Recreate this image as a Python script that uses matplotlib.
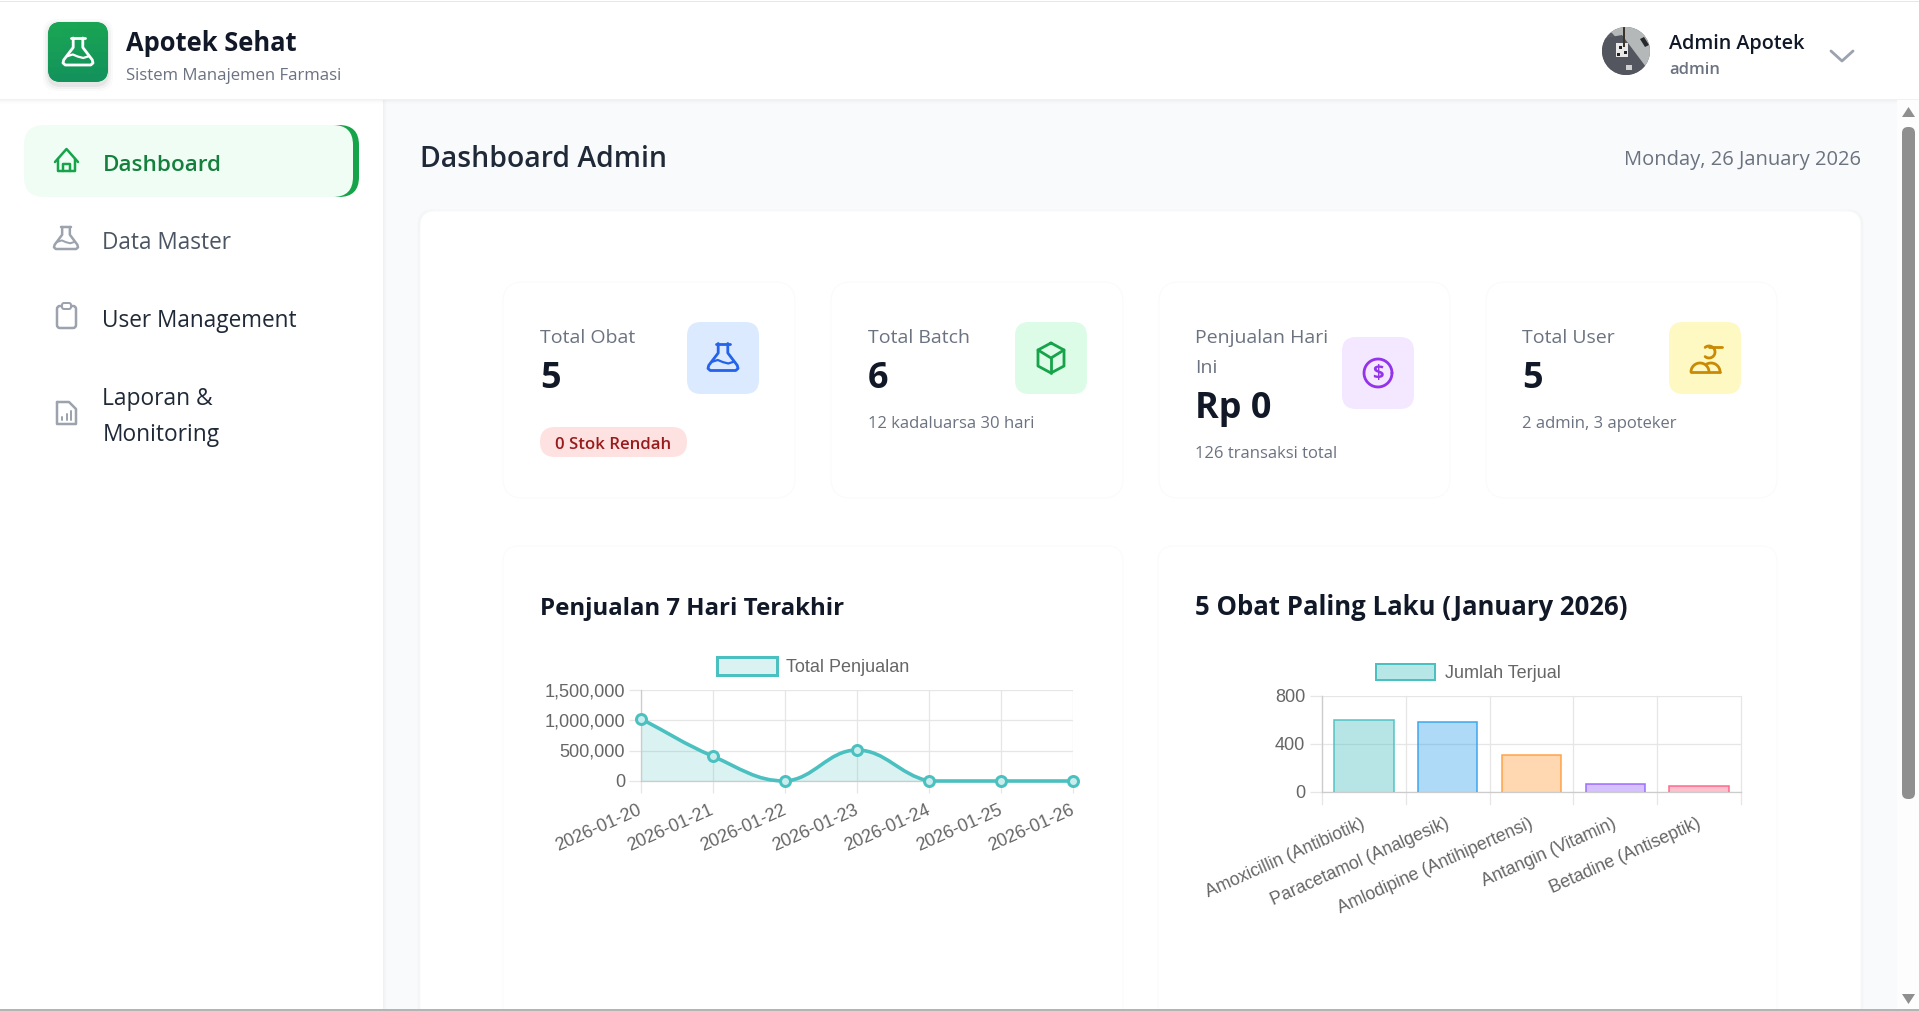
import numpy as np
import matplotlib
matplotlib.use("Agg")
import matplotlib.pyplot as plt
from matplotlib.patches import FancyBboxPatch, Circle, Polygon, Rectangle, PathPatch
from matplotlib.path import Path
from matplotlib.transforms import ScaledTranslation

W, H = 1919, 1012
UI_FONT = "Open Sans"
CHART_FONT = "Liberation Sans"

# chart data
sales_dates = ["2026-01-20", "2026-01-21", "2026-01-22", "2026-01-23",
               "2026-01-24", "2026-01-25", "2026-01-26"]
sales_totals = [1030000, 410000, 0, 510000, 0, 0, 0]
sales_ticks = [0, 500000, 1000000, 1500000]

drug_names = ["Amoxicillin (Antibiotik)", "Paracetamol (Analgesik)",
              "Amlodipine (Antihipertensi)", "Antangin (Vitamin)",
              "Betadine (Antiseptik)"]
drug_sold = [600, 580, 310, 68, 48]
drug_ticks = [0, 400, 800]
drug_colors = ["#4bc0c0", "#36a2eb", "#ff9f40", "#9966ff", "#ff6384"]

plt.rcParams["font.family"] = [UI_FONT, "DejaVu Sans"]
fig = plt.figure(figsize=(W / 100, H / 100), dpi=100, facecolor="#f9fafb")
ui = fig.add_axes([0, 0, 1, 1], zorder=0)
ui.set_xlim(0, W)
ui.set_ylim(H, 0)
ui.axis("off")


def px(size):
    return size * 0.72


def rrect(x0, y0, x1, y1, r, fc, ec="none", lw=0, alpha=None, z=1):
    p = FancyBboxPatch((x0 + r, y0 + r), x1 - x0 - 2 * r, y1 - y0 - 2 * r,
                       boxstyle=f"round,pad={r},rounding_size={r}",
                       fc=fc, ec=ec, lw=lw, alpha=alpha, zorder=z)
    ui.add_patch(p)
    return p


def label(x, y, s, size, color, weight="normal", ha="left", font=UI_FONT, z=5):
    ui.text(x, y, s, fontsize=px(size), color=color, fontweight=weight, ha=ha,
            va="baseline", family=[font, "DejaVu Sans"], zorder=z)


def stroke(pts, color, lw=2.5, closed=False, z=5):
    pts = np.array(pts, dtype=float)
    if closed:
        pts = np.vstack([pts, pts[:1]])
    ui.plot(pts[:, 0], pts[:, 1], color=color, lw=px(lw), solid_capstyle="round",
            solid_joinstyle="round", zorder=z)


def arc(cx, cy, r, a0, a1, color, lw=2.5, z=5):
    t = np.radians(np.linspace(a0, a1, 40))
    stroke(np.column_stack([cx + r * np.cos(t), cy - r * np.sin(t)]), color, lw, z=z)


def flask(cx, cy, hw, hh, color, lw=2.5):
    body = [(-0.32, -1), (-0.32, -0.3), (-0.95, 0.62), (-1, 0.85), (-0.85, 1),
            (0.85, 1), (1, 0.85), (0.95, 0.62), (0.32, -0.3), (0.32, -1)]
    stroke([(cx + a * hw, cy + b * hh) for a, b in body], color, lw)
    stroke([(cx - 0.45 * hw, cy - hh), (cx + 0.45 * hw, cy - hh)], color, lw)
    wave = [(-0.72, 0.35), (-0.35, 0.22), (0, 0.38), (0.35, 0.48), (0.72, 0.35)]
    stroke([(cx + a * hw, cy + b * hh) for a, b in wave], color, lw * 0.8)


def card(x0, y0, x1, y1, r=16):
    for grow, a in [(3, 0.007), (2, 0.010), (1, 0.014)]:
        rrect(x0 - grow, y0 - grow + 1, x1 + grow, y1 + grow + 1, r, "#000000", alpha=a)
    rrect(x0, y0, x1, y1, r, "#ffffff", ec="#f9fafa", lw=0.7, z=2)


def shift_labels(labels, dx, dy):
    # nudge tick labels by screen pixels, dy positive is up
    off = ScaledTranslation(px(dx) / 72, px(dy) / 72, fig.dpi_scale_trans)
    for t in labels:
        t.set_transform(t.get_transform() + off)


# page background, header and sidebar
ui.add_patch(Rectangle((0, 0), 383, H, fc="#ffffff", zorder=0.5))
for i, a in enumerate([0.035, 0.022, 0.012, 0.006]):
    ui.add_patch(Rectangle((383 + i, 100), 1, H, fc="#000000", alpha=a, lw=0, zorder=0.4))
    ui.add_patch(Rectangle((0, 101 + i), W, 1, fc="#000000", alpha=a, lw=0, zorder=0.6))
ui.add_patch(Rectangle((0, 0), W, 101, fc="#ffffff", zorder=0.7))
ui.add_patch(Rectangle((0, 1.5), W, 1.5, fc="#e5e7eb", zorder=0.8))
ui.add_patch(Rectangle((0, 100), W, 1, fc="#f0f1f3", zorder=0.8))
ui.add_patch(Rectangle((0, 1010), W, 2, fc="#b4b4b4", zorder=9))

# logo
for grow, a in [(5, 0.02), (3, 0.03), (1, 0.05)]:
    rrect(48 - grow, 25 - grow, 108 + grow, 87 + grow, 14, "#000000", alpha=a)
logo = rrect(48, 23, 108, 83, 13, "#18a058", z=2)
grad = ui.imshow(np.linspace(0, 1, 64).reshape(8, 8), extent=(48, 108, 83, 23), aspect="auto",
                 cmap=matplotlib.colors.LinearSegmentedColormap.from_list("g", ["#1aa654", "#13925c"]),
                 zorder=3)
grad.set_clip_path(logo)
ui.set_xlim(0, W)
ui.set_ylim(H, 0)
flask(78, 52.5, 15, 13.5, "#ffffff", 2.8)
label(126, 51, "Apotek Sehat", 25.5, "#111827", "bold")
label(126, 80, "Sistem Manajemen Farmasi", 16.8, "#6b7280")

# user block
avatar = Circle((1626, 52), 24, fc="#5a5d66", zorder=3)
ui.add_patch(avatar)
bits = [Polygon([(1602, 28), (1650, 28), (1650, 76), (1644, 70), (1612, 34)], fc="#b4b8b8", zorder=3.1),
        Polygon([(1600, 40), (1622, 36), (1646, 68), (1630, 80), (1600, 80)], fc="#53565f", zorder=3.2),
        Rectangle((1616, 44), 12, 14, fc="#e8e8e8", zorder=3.3),
        Rectangle((1619, 47), 3, 3, fc="#222222", zorder=3.35),
        Rectangle((1624, 52), 3, 3, fc="#222222", zorder=3.35),
        Rectangle((1617, 54), 3, 3, fc="#222222", zorder=3.35),
        Rectangle((1626, 66), 6, 5, fc="#d0d0d0", zorder=3.3),
        Rectangle((1623, 28), 2, 20, fc="#3a3328", zorder=3.4),
        Polygon([(1640, 40), (1644, 38), (1649, 46), (1645, 48)], fc="#26282c", zorder=3.4)]
for b in bits:
    ui.add_patch(b)
    b.set_clip_path(avatar)
label(1669, 49, "Admin Apotek", 19.8, "#111827", 600)
label(1669, 74, "admin", 16.5, "#6b7280", 600)
stroke([(1831, 52), (1842, 62), (1853, 52)], "#9ca3af", 2.8)

# sidebar nav
rrect(300, 126, 359, 198, 20, "#16a34a", z=1)
rrect(24, 126, 353, 198, 20, "#f0fdf4", z=1.5)
label(102.5, 171, "Dashboard", 22.5, "#15803d", 600)
stroke([(55, 163), (66.5, 150), (78, 163)], "#16a34a")
stroke([(58, 160), (58, 172), (75, 172), (75, 160)], "#16a34a")
stroke([(63, 172), (63, 165), (70, 165), (70, 172)], "#16a34a")

flask(66, 239, 12, 11, "#9ca3af")
label(102.5, 249, "Data Master", 22.6, "#4b5563")

rrect(57, 307, 76, 329, 3, "none", ec="#9ca3af", lw=px(2.5), z=5)
rrect(62, 304, 71, 310, 2, "#ffffff", ec="#9ca3af", lw=px(2), z=5.1)
label(102.5, 327, "User Management", 22.6, "#1f2937")

stroke([(57, 403), (69, 403), (76, 410), (76, 425), (57, 425)], "#9ca3af", closed=True)
for bx, by in [(62, 418), (66.5, 415), (71, 412)]:
    stroke([(bx, 421), (bx, by)], "#9ca3af", 2)
label(102.5, 405, "Laporan &", 22.8, "#1f2937")
label(102.5, 441, "Monitoring", 22.8, "#1f2937")

# page heading
label(420, 167, "Dashboard Admin", 28.4, "#1f2937", 600)
label(1861, 165, "Monday, 26 January 2026", 20.2, "#6b7280", ha="right")

# main panel and cards
card(420, 212, 1861, 1040, 15)
for x0, x1 in [(503, 795), (831, 1123), (1159, 1450), (1486, 1777)]:
    card(x0, 283, x1, 499, 20)
card(503, 547, 1123, 1040, 16)
card(1158, 547, 1777, 1040, 16)

# stat card 1
label(540, 343, "Total Obat", 19.5, "#6b7280")
label(540, 388, "5", 36, "#111827", "bold")
rrect(687, 323, 759, 395, 14, "#dbeafe", z=3)
flask(723, 358, 15, 13.5, "#2563eb", 2.8)
rrect(540, 428, 687, 458, 15, "#fee2e2", z=3)
label(613.5, 449, "0 Stok Rendah", 16.8, "#991b1b", 600, ha="center")

# stat card 2
label(868, 343, "Total Batch", 19.5, "#6b7280")
label(868, 388, "6", 36, "#111827", "bold")
rrect(1015, 323, 1087, 395, 14, "#dcfce7", z=3)
stroke([(1051, 344), (1064, 351), (1064, 367), (1051, 374), (1038, 367), (1038, 351)], "#16a34a", 2.8, closed=True)
stroke([(1038, 351), (1051, 359), (1064, 351)], "#16a34a", 2.8)
stroke([(1051, 359), (1051, 374)], "#16a34a", 2.8)
label(868, 428, "12 kadaluarsa 30 hari", 16.6, "#6b7280")

# stat card 3
label(1195, 343, "Penjualan Hari", 19.5, "#6b7280")
label(1195, 373, "Ini", 19.5, "#6b7280")
label(1195, 418, "Rp 0", 36, "#111827", "bold")
rrect(1342, 338, 1414, 410, 14, "#f3e8ff", z=3)
arc(1378, 374, 14, 0, 360, "#9333ea", 2.8)
ui.text(1378, 374, "$", fontsize=px(20), color="#9333ea", fontweight="bold", ha="center",
        va="center", zorder=5)
label(1195, 458, "126 transaksi total", 16.6, "#6b7280")

# stat card 4
label(1522, 343, "Total User", 19.5, "#6b7280")
label(1522, 388, "5", 36, "#111827", "bold")
rrect(1669, 323, 1741, 395, 14, "#fef9c3", z=3)
arc(1700, 373, 9, 0, 180, "#ca8a04", 2.8)
arc(1711, 373, 9, 0, 120, "#ca8a04", 2.8)
stroke([(1691, 373), (1720, 373)], "#ca8a04", 2.8)
arc(1709, 353, 6, -130, 130, "#ca8a04", 2.8)
stroke([(1709, 348), (1722, 348)], "#ca8a04", 2.8)
label(1522, 428, "2 admin, 3 apoteker", 16.6, "#6b7280")

# chart titles
label(540, 615, "Penjualan 7 Hari Terakhir", 24, "#111827", "bold")
label(1195, 615, "5 Obat Paling Laku (January 2026)", 25.8, "#111827", "bold")

# legends
ui.add_patch(Rectangle((717, 658), 60, 18, fc="#dbf2f2", ec="#4bc0c0", lw=px(3), zorder=5))
label(786, 672, "Total Penjualan", 18, "#666666", font=CHART_FONT)
ui.add_patch(Rectangle((1376, 665), 59, 16, fc="#b7e6e6", ec="#4bc0c0", lw=px(2), zorder=5))
label(1445, 678, "Jumlah Terjual", 18, "#666666", font=CHART_FONT)


def chart_axes(x0, y0, x1, y1):
    ax = fig.add_axes([x0 / W, 1 - y1 / H, (x1 - x0) / W, (y1 - y0) / H], zorder=3)
    ax.patch.set_alpha(0)
    for side in ("top", "right"):
        ax.spines[side].set_visible(False)
    for side in ("left", "bottom"):
        ax.spines[side].set_color("#cccccc")
        ax.spines[side].set_linewidth(px(1.3))
    ax.grid(True, color="#e6e6e6", lw=px(1.3))
    ax.set_axisbelow(True)
    ax.tick_params(length=px(12), width=px(1.3), color="#e6e6e6", labelcolor="#666666")
    ax.tick_params(axis="both", labelsize=px(18.2))
    return ax


def bezier_path(ax, xs, ys, tension=0.4):
    # same curve shape the web chart uses, control points worked out in pixels
    # and capped to the plot area so the line cannot dip under zero
    pts = ax.transData.transform(np.column_stack([xs, ys]))
    low, high = ax.bbox.get_points()
    verts, codes = [pts[0]], [Path.MOVETO]
    n = len(pts)
    prev_c, next_c = [None] * n, [None] * n
    for i in range(n):
        a, b, c = pts[max(i - 1, 0)], pts[i], pts[min(i + 1, n - 1)]
        d1, d2 = np.hypot(*(b - a)), np.hypot(*(c - b))
        s1, s2 = d1 / (d1 + d2), d2 / (d1 + d2)
        prev_c[i] = np.clip(b - tension * s1 * (c - a), low, high)
        next_c[i] = np.clip(b + tension * s2 * (c - a), low, high)
    for i in range(n - 1):
        verts += [next_c[i], prev_c[i + 1], pts[i + 1]]
        codes += [Path.CURVE4] * 3
    return ax.transData.inverted().transform(np.array(verts)), codes


# line chart
ax1 = chart_axes(640.5, 691, 1073, 782)
ax1.set_xlim(0, len(sales_dates) - 1)
ax1.set_ylim(0, max(sales_ticks))
ax1.set_yticks(sales_ticks)
ax1.set_yticklabels([f"{v:,}" for v in sales_ticks], family=CHART_FONT)
ax1.set_xticks(range(len(sales_dates)))
ax1.set_xticklabels(sales_dates, rotation=24, ha="right", rotation_mode="anchor", family=CHART_FONT)
ax1.tick_params(axis="x", pad=5.5)
ax1.tick_params(axis="y", pad=2.4)
shift_labels(ax1.get_xticklabels(), -3, 0)
shift_labels(ax1.get_yticklabels(), 0, 1.2)
xs = np.arange(len(sales_totals))
verts, codes = bezier_path(ax1, xs, sales_totals)
fill_verts = np.vstack([verts, [[xs[-1], 0], [xs[0], 0], verts[0]]])
fill_codes = codes + [Path.LINETO, Path.LINETO, Path.CLOSEPOLY]
ax1.add_patch(PathPatch(Path(fill_verts, fill_codes), fc="#4bc0c0", alpha=0.2, ec="none", zorder=2))
ax1.add_patch(PathPatch(Path(verts, codes), fc="none", ec="#4bc0c0", lw=px(3.6), zorder=3, clip_on=False))
ax1.plot(xs, sales_totals, "o", ms=px(10), mfc="#c9ecec", mec="#4bc0c0", mew=px(3), zorder=4, clip_on=False)

# bar chart
ax2 = chart_axes(1322, 697, 1741, 793)
ax2.set_xlim(-0.5, len(drug_names) - 0.5)
ax2.set_ylim(0, max(drug_ticks))
ax2.set_yticks(drug_ticks)
ax2.set_yticklabels([str(v) for v in drug_ticks], family=CHART_FONT)
ax2.set_xticks(range(len(drug_names)))
ax2.set_xticklabels(drug_names, rotation=24, ha="right", rotation_mode="anchor", family=CHART_FONT)
ax2.tick_params(axis="x", length=0, pad=px(22), labelsize=px(17.8))
ax2.tick_params(axis="y", pad=3.6)
shift_labels(ax2.get_xticklabels(), -3, 0)
shift_labels(ax2.get_yticklabels(), 0, 1.2)
ax2.xaxis.grid(False)
for edge in np.arange(-0.5, len(drug_names)):
    ax2.plot([edge, edge], [-100, 800], color="#e6e6e6", lw=px(1.3), zorder=1, clip_on=False)
ax2.set_ylim(0, max(drug_ticks))
bar_w = 0.71
for i, (v, c) in enumerate(zip(drug_sold, drug_colors)):
    ax2.bar(i, v, width=bar_w, color=c, alpha=0.4, lw=0, zorder=2)
    ax2.plot([i - bar_w / 2, i - bar_w / 2, i + bar_w / 2, i + bar_w / 2], [0, v, v, 0],
             color=c, lw=px(1.6), alpha=0.9, zorder=3, solid_joinstyle="miter")

# scrollbar
ui.add_patch(Rectangle((1897, 101), 22, 909, fc="#fdfdfd", zorder=6))
rrect(1902, 128, 1915, 800, 6, "#8f8f8f", z=7)
ui.add_patch(Polygon([(1908.5, 108), (1902, 118), (1915, 118)], fc="#8f8f8f", zorder=7))
ui.add_patch(Polygon([(1908.5, 1005), (1902, 995), (1915, 995)], fc="#8f8f8f", zorder=7))

fig.savefig("out.png", dpi=100)
